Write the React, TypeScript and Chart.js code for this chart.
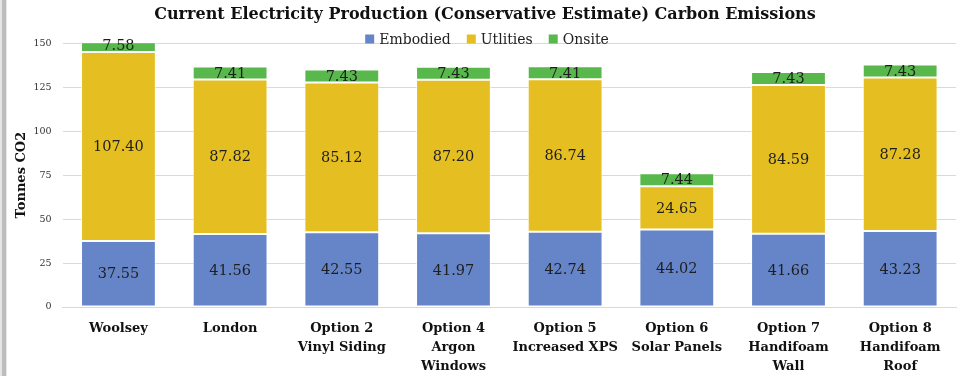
import React, { useEffect, useRef } from "react";
import { Chart, registerables } from "chart.js";

Chart.register(...registerables);

const categories: string[][] = [
  ["Woolsey"],
  ["London"],
  ["Option 2", "Vinyl Siding"],
  ["Option 4", "Argon", "Windows"],
  ["Option 5", "Increased XPS"],
  ["Option 6", "Solar Panels"],
  ["Option 7", "Handifoam", "Wall"],
  ["Option 8", "Handifoam", "Roof"],
];
const embodied = [37.55, 41.56, 42.55, 41.97, 42.74, 44.02, 41.66, 43.23];
const utilities = [107.4, 87.82, 85.12, 87.2, 86.74, 24.65, 84.59, 87.28];
const onsite = [7.58, 7.41, 7.43, 7.43, 7.41, 7.44, 7.43, 7.43];
const yTicks = [0, 25, 50, 75, 100, 125, 150];

const FONT = "'DejaVu Serif', serif";
const COLORS = ["#6685C8", "#E5BF21", "#58B84B"];

const bgPlugin = {
  id: "bg",
  beforeDraw(chart: any) {
    const ctx = chart.ctx;
    ctx.save();
    ctx.fillStyle = "#ffffff";
    ctx.fillRect(0, 0, chart.width, chart.height);
    ctx.fillStyle = "#e6e6e6";
    ctx.fillRect(0, 0, 7, chart.height);
    ctx.fillStyle = "#bdbdbd";
    ctx.fillRect(2, 0, 4, chart.height);
    ctx.restore();
  },
};

const legendPlugin = {
  id: "customLegend",
  afterDraw(chart: any) {
    const ctx = chart.ctx;
    ctx.save();
    ctx.font = `14px ${FONT}`;
    ctx.textBaseline = "middle";
    const box = 9;
    const gap = 5;
    const itemGap = 16;
    const items = chart.data.datasets.map((d: any) => ({
      label: d.label,
      color: d.backgroundColor,
      w: box + gap + ctx.measureText(d.label).width,
    }));
    const total = items.reduce((s: number, it: any) => s + it.w, 0) + itemGap * (items.length - 1);
    let x = 487 - total / 2;
    const y = 39;
    for (const it of items) {
      ctx.fillStyle = it.color;
      ctx.fillRect(x, y - box / 2, box, box);
      ctx.fillStyle = "#222222";
      ctx.textAlign = "left";
      ctx.fillText(it.label, x + box + gap, y + 1);
      x += it.w + itemGap;
    }
    ctx.restore();
  },
};

const labelPlugin = {
  id: "dataLabels",
  afterDatasetsDraw(chart: any) {
    const ctx = chart.ctx;
    ctx.save();
    ctx.font = `14.5px ${FONT}`;
    ctx.fillStyle = "#1e1e1e";
    ctx.textAlign = "center";
    ctx.textBaseline = "middle";
    chart.data.datasets.forEach((ds: any, i: number) => {
      const meta = chart.getDatasetMeta(i);
      meta.data.forEach((el: any, j: number) => {
        const v = ds.data[j];
        const cy = (el.y + el.base) / 2;
        ctx.fillText(v.toFixed(2), el.x, cy + 1);
      });
    });
    ctx.restore();
  },
};

export default function App() {
  const ref = useRef<HTMLCanvasElement>(null);
  useEffect(() => {
    if (!ref.current) return;
    const chart = new Chart(ref.current, {
      type: "bar",
      data: {
        labels: categories,
        datasets: [
          { label: "Embodied", data: embodied, backgroundColor: COLORS[0] },
          { label: "Utlities", data: utilities, backgroundColor: COLORS[1] },
          { label: "Onsite", data: onsite, backgroundColor: COLORS[2] },
        ].map((d) => ({
          ...d,
          borderColor: "rgba(255,255,255,0.7)",
          borderWidth: 1,
          borderSkipped: false,
          categoryPercentage: 1,
          barPercentage: 0.67,
        })),
      },
      options: {
        responsive: false,
        animation: false,
        devicePixelRatio: 1,
        layout: { padding: { left: 14, right: 6, top: 0, bottom: 0 } },
        plugins: {
          legend: { display: false },
          tooltip: { enabled: false },
          title: {
            display: true,
            text: "Current Electricity Production (Conservative Estimate) Carbon Emissions",
            color: "#111111",
            font: { family: FONT, size: 16, weight: "bold" },
            padding: { top: 5, bottom: 19 },
          },
        },
        scales: {
          x: {
            stacked: true,
            grid: { display: false, drawTicks: false },
            border: { color: "#d9d9d9" },
            afterFit(scale: any) {
              scale.height = 69;
            },
            ticks: {
              color: "#111111",
              font: { family: FONT, size: 13, weight: "bold", lineHeight: 1.4615 },
              padding: 12,
              maxRotation: 0,
              autoSkip: false,
            },
          },
          y: {
            stacked: true,
            min: 0,
            max: 150,
            afterBuildTicks(axis: any) {
              axis.ticks = yTicks.map((v) => ({ value: v }));
            },
            afterFit(scale: any) {
              scale.width = 48.6;
            },
            grid: { color: "#d9d9d9", drawTicks: false },
            border: { display: false },
            ticks: {
              color: "#333333",
              font: { family: FONT, size: 9.5 },
              padding: 11,
            },
            title: {
              display: true,
              text: "Tonnes CO2",
              color: "#111111",
              font: { family: FONT, size: 13, weight: "bold" },
              padding: { top: 0, bottom: 4 },
            },
          },
        },
      },
      plugins: [bgPlugin, legendPlugin, labelPlugin],
    });
    return () => chart.destroy();
  }, []);
  return (
    <div style={{ position: "fixed", left: 0, top: 0, width: 962, height: 376 }}>
      <canvas ref={ref} width={962} height={376} style={{ display: "block" }} />
    </div>
  );
}
